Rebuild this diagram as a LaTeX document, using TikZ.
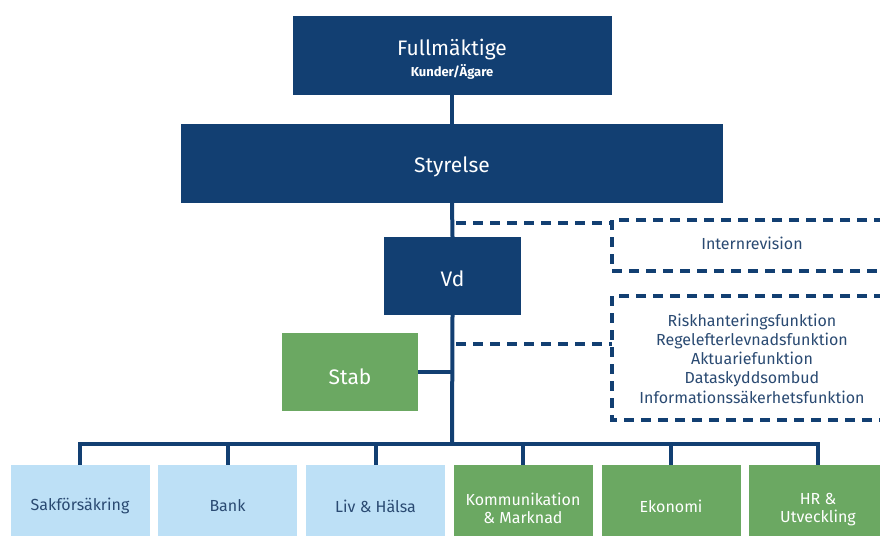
\documentclass[tikz,border=0pt]{standalone}
\usepackage{fontspec}
\setmainfont{Fira Sans}
\definecolor{navy}{HTML}{123F72}
\definecolor{grn}{HTML}{6BA862}
\definecolor{lb}{HTML}{BDE0F6}
\definecolor{txt}{HTML}{2A4A72}
\begin{document}
\begin{tikzpicture}[x=1pt,y=-1pt,
  darkbox/.style={fill=navy,text=white,inner sep=0pt,align=center,font=\fontsize{21}{24}\selectfont},
  greenbox/.style={fill=grn,text=white,inner sep=0pt,align=center},
  bluebox/.style={fill=lb,text=txt,inner sep=0pt,align=center},
  botbox/.style={minimum width=139pt,minimum height=74pt,font=\fontsize{16}{18}\selectfont},
  lbl/.style={inner sep=0pt,align=center},
  conn/.style={draw=navy,line width=4pt},
  dconn/.style={draw=navy,line width=4pt,dash pattern=on 10pt off 7pt},
  dtext/.style={text=txt,inner sep=0pt,align=center,font=\fontsize{16}{19.3}\selectfont}]
\useasboundingbox (0,0) rectangle (880,535);
\clip (0,0) rectangle (880,535);
\fill[white] (0,0) rectangle (880,535);
% main boxes
\node[darkbox,minimum width=319pt,minimum height=79pt] (full) at (452,55.5) {};
\node[lbl,text=white,font=\fontsize{21}{24}\selectfont] (fullt) at (452,50) {Fullmäktige};
\node[lbl,text=white,font=\fontsize{13}{15}\selectfont\bfseries] (fulls) at (452,72) {Kunder/Ägare};
\node[darkbox,minimum width=542pt,minimum height=79pt] (sty) at (452,163.5) {};
\node[lbl,text=white,font=\fontsize{21}{24}\selectfont] (styt) at (452,167) {Styrelse};
\node[darkbox,minimum width=137pt,minimum height=78pt] (vd) at (452.5,276) {};
\node[lbl,text=white,font=\fontsize{21}{24}\selectfont] (vdt) at (452.5,279) {Vd};
\node[greenbox,minimum width=136pt,minimum height=78pt] (stab) at (350,372) {};
\node[lbl,text=white,font=\fontsize{21}{24}\selectfont] (stabt) at (350,377) {Stab};
% bottom boxes
\node[bluebox,botbox] (b1) at (80,502) {};
\node[bluebox,botbox] (b2) at (227.5,502) {};
\node[bluebox,botbox] (b3) at (375.5,502) {};
\node[greenbox,botbox] (b4) at (523,502) {};
\node[greenbox,botbox] (b5) at (671,502) {};
\node[greenbox,botbox] (b6) at (818,502) {};
\node[lbl,text=txt,font=\fontsize{16}{18}\selectfont] (t1) at (80,506) {Sakförsäkring};
\node[lbl,text=txt,font=\fontsize{16}{18}\selectfont] (t2) at (227.5,506) {Bank};
\node[lbl,text=txt,font=\fontsize{16}{18}\selectfont] (t3) at (375.5,506) {Liv \& Hälsa};
\node[lbl,text=white,font=\fontsize{16}{18}\selectfont] (t4) at (523,508.5) {Kommunikation\\\& Marknad};
\node[lbl,text=white,font=\fontsize{16}{18}\selectfont] (t5) at (671,506) {Ekonomi};
\node[lbl,text=white,font=\fontsize{16}{18}\selectfont] (t6) at (818,510) {HR \&\\Utveckling};
% spine
\coordinate (bus) at (452,444);
\coordinate (busL) at (80,444);
\coordinate (busR) at (818,444);
\draw[conn] (full.south) -- (sty.north);
\draw[conn] (sty.south) -- (vd.north);
\draw[conn] (vd.south) -- (bus);
\draw[conn] (stab.east) -- (stab.east -| bus);
\draw[conn,line cap=rect] (busL) -- (busR);
\foreach \b in {b1,b2,b3,b4,b5,b6} {\draw[conn] (\b.north |- bus) -- (\b.north);}
% dashed boxes
\node[dtext] (ir) at (752,243) {Internrevision};
\node[dtext] (fn) at (752,358.5) {Riskhanteringsfunktion\\Regelefterlevnadsfunktion\\Aktuariefunktion\\Dataskyddsombud\\Informationssäkerhetsfunktion};
\coordinate (ir0) at (612,222.5);
\coordinate (ir1) at (612,220);
\coordinate (ir2) at (612,271);
\coordinate (fn0) at (612,344);
\coordinate (fn1) at (612,296);
\coordinate (fn2) at (612,420);
\draw[dconn] (ir0 -| bus) ++(4,0) -- (ir0);
\draw[dconn] (884,220) -- (ir1) -- (ir2) -- (884,271);
\draw[dconn] (fn0 -| bus) ++(4,0) -- (fn0);
\draw[dconn] (884,296) -- (fn1) -- (fn2) -- (884,420);
\end{tikzpicture}
\end{document}
